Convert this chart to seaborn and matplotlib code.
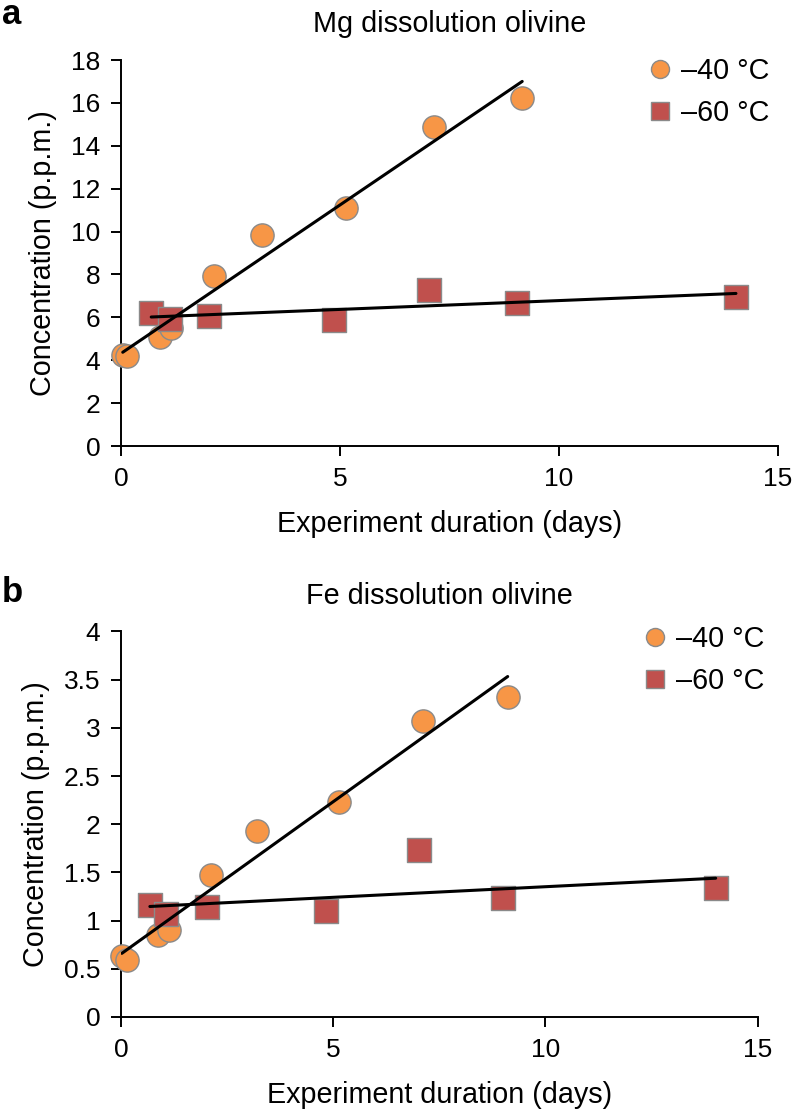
import numpy as np
import matplotlib
matplotlib.use("Agg")
import matplotlib.pyplot as plt
import seaborn as sns
from matplotlib.lines import Line2D
from matplotlib.ticker import FuncFormatter

# values
mg_days_40 = [0.04, 0.14, 0.88, 1.14, 2.13, 3.22, 5.14, 7.14, 9.16]
mg_ppm_40 = [4.23, 4.19, 5.07, 5.51, 7.94, 9.83, 11.12, 14.88, 16.22]
mg_days_60 = [0.69, 1.12, 2.02, 4.86, 7.04, 9.03, 14.04]
mg_ppm_60 = [6.18, 5.90, 6.07, 5.87, 7.27, 6.65, 6.96]

fe_days_40 = [0.02, 0.13, 0.87, 1.13, 2.12, 3.20, 5.13, 7.11, 9.11]
fe_ppm_40 = [0.63, 0.59, 0.85, 0.90, 1.47, 1.93, 2.23, 3.07, 3.32]
fe_days_60 = [0.68, 1.06, 2.02, 4.84, 7.01, 9.00, 14.01]
fe_ppm_60 = [1.16, 1.07, 1.14, 1.10, 1.73, 1.23, 1.34]

labels = ["\u201340 \u00b0C", "\u201360 \u00b0C"]
orange = "#F79646"
red = "#C0504D"
edge = "#8A8A8A"

sns.set_style("ticks", {"text.color": "black", "axes.labelcolor": "black",
                        "xtick.color": "black", "ytick.color": "black",
                        "axes.edgecolor": "black"})
plt.rcParams["font.family"] = ["Liberation Sans", "DejaVu Sans"]

W, H = 796, 1114
fig = plt.figure(figsize=(W / 100, H / 100), dpi=100)


def px_axes(left, right, top, bottom):
    return fig.add_axes([left / W, 1 - bottom / H, (right - left) / W, (bottom - top) / H])


def panel(ax, d40, c40, d60, c60, title, ymax, ystep, leg_xy):
    sns.scatterplot(x=d40, y=c40, ax=ax, marker="o", color=orange, s=280,
                    edgecolor=edge, linewidth=1.0, zorder=3, clip_on=False)
    sns.scatterplot(x=d60, y=c60, ax=ax, marker="s", color=red, s=300,
                    edgecolor=edge, linewidth=1.0, zorder=4, clip_on=False)
    for d, c in [(d40, c40), (d60, c60)]:
        sns.regplot(x=np.array(d), y=np.array(c), ax=ax, scatter=False, ci=None,
                    truncate=True, color="black", line_kws={"lw": 2.2, "zorder": 5})
    ax.set_xlim(0, 15)
    ax.set_ylim(0, ymax)
    ax.set_xticks([0, 5, 10, 15])
    ax.set_yticks(np.arange(0, ymax + ystep / 2, ystep))
    ax.yaxis.set_major_formatter(FuncFormatter(lambda v, p: f"{v:g}"))
    ax.tick_params(labelsize=19, length=7, width=1.4, pad=8, colors="black")
    for s in ["left", "bottom"]:
        ax.spines[s].set_linewidth(1.4)
        ax.spines[s].set_color("black")
    sns.despine(ax=ax)
    ax.set_title(title, fontsize=20.7, pad=20)
    ax.set_xlabel("Experiment duration (days)", fontsize=20.7, labelpad=14)
    ax.set_ylabel("Concentration (p.p.m.)", fontsize=20.7, labelpad=10)
    handles = [
        Line2D([], [], marker="o", ls="none", markersize=13, markerfacecolor=orange,
               markeredgecolor=edge, markeredgewidth=1.0),
        Line2D([], [], marker="s", ls="none", markersize=13, markerfacecolor=red,
               markeredgecolor=edge, markeredgewidth=1.0),
    ]
    ax.legend(handles, labels, loc="upper left", frameon=False, fontsize=20.7,
              bbox_to_anchor=(leg_xy[0] / W, 1 - leg_xy[1] / H),
              bbox_transform=fig.transFigure, borderpad=0, borderaxespad=0,
              handlelength=0.8, handletextpad=0.35, labelspacing=0.5)


ax_a = px_axes(121, 778, 60, 446)
panel(ax_a, mg_days_40, mg_ppm_40, mg_days_60, mg_ppm_60,
      "Mg dissolution olivine", 18, 2, (648, 57))

ax_b = px_axes(121, 757.7, 631.4, 1017)
panel(ax_b, fe_days_40, fe_ppm_40, fe_days_60, fe_ppm_60,
      "Fe dissolution olivine", 4, 0.5, (643, 625))

fig.text(2 / W, 1 - 24 / H, "a", fontsize=25, fontweight="bold", va="baseline", ha="left")
fig.text(2 / W, 1 - 602 / H, "b", fontsize=25, fontweight="bold", va="baseline", ha="left")

fig.savefig("out.png", dpi=100)
